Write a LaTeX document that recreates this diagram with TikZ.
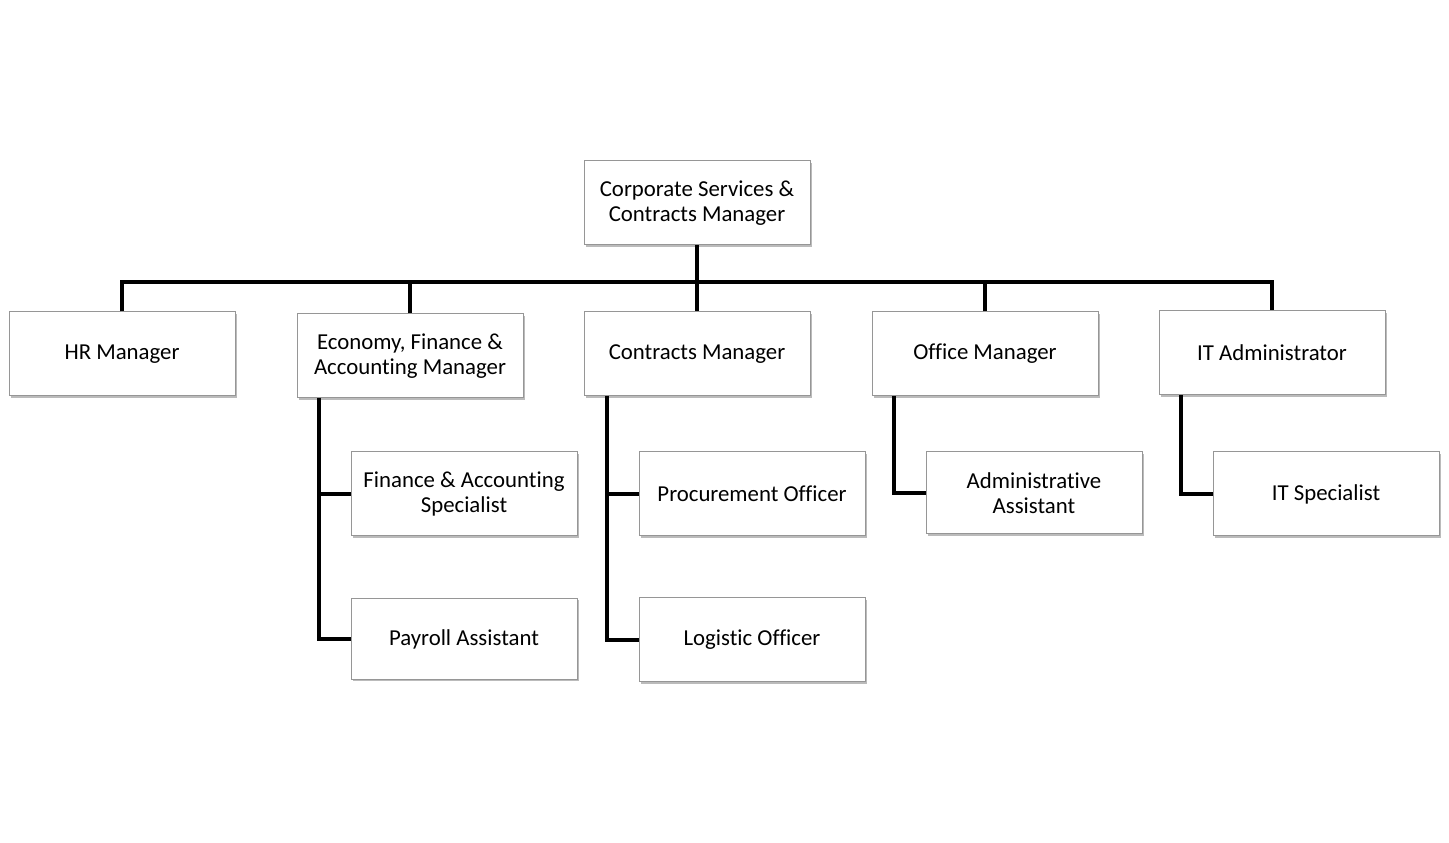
\documentclass[tikz,border=0pt]{standalone}
\usepackage{fontspec}
\setmainfont{Carlito}[Ligatures={NoCommon}]
\usetikzlibrary{shadows}
\definecolor{bord}{RGB}{150,150,150}
\definecolor{ombre}{RGB}{170,170,170}

\tikzset{
    poste/.style={draw=bord, line width=1pt, fill=white, minimum width=226pt, minimum height=84pt,
        inner sep=0pt, align=center, font=\fontsize{22.8}{25}\selectfont,
        drop shadow={shadow xshift=2pt, shadow yshift=-2pt, fill=ombre, opacity=0.8}},
    lien/.style={line width=4pt, black}
}

\begin{document}
\begin{tikzpicture}[x=1pt, y=1pt]
    \useasboundingbox (0,0) rectangle (1449,843);

    % Direction
    \node[poste] (dir) at (697, 640) {Corporate Services \&\\Contracts Manager};

    % Managers
    \node[poste] (hr)   at (122, 489) {HR Manager};
    \node[poste] (eco)  at (410, 487) {Economy, Finance \&\\Accounting Manager};
    \node[poste] (cm)   at (697, 489) {Contracts Manager};
    \node[poste] (om)   at (985, 489) {Office Manager};
    \node[poste] (ita)  at (1272, 490) {IT Administrator};

    % Equipes
    \node[poste] (fas)  at (464, 349) {Finance \& Accounting\\Specialist};
    \node[poste, minimum height=81pt] (pay)  at (464, 204) {Payroll Assistant};
    \node[poste] (proc) at (752, 349) {Procurement Officer};
    \node[poste] (log)  at (752, 203) {Logistic Officer};
    \node[poste, minimum width=216pt, minimum height=82pt] (adm) at (1034, 350) {Administrative\\Assistant};
    \node[poste] (its)  at (1326, 349) {IT Specialist};

    % Liaisons
    \coordinate (bus) at (697, 561);
    \draw[lien] (dir.south) -- (cm.north);
    \draw[lien] (hr.north) -- (hr.north |- bus) -- (ita.north |- bus) -- (ita.north);
    \draw[lien] (eco.north) -- (eco.north |- bus);
    \draw[lien] (om.north) -- (om.north |- bus);

    \coordinate (ecob) at (319, 445);
    \coordinate (cmb)  at (607, 447);
    \coordinate (omb)  at (894, 447);
    \coordinate (itab) at (1181, 448);
    \draw[lien] (ecob) |- (fas.west);
    \draw[lien] (ecob) |- (pay.west);
    \draw[lien] (cmb) |- (proc.west);
    \draw[lien] (cmb) |- (log.west);
    \draw[lien] (omb) |- (adm.west);
    \draw[lien] (itab) |- (its.west);
\end{tikzpicture}
\end{document}
